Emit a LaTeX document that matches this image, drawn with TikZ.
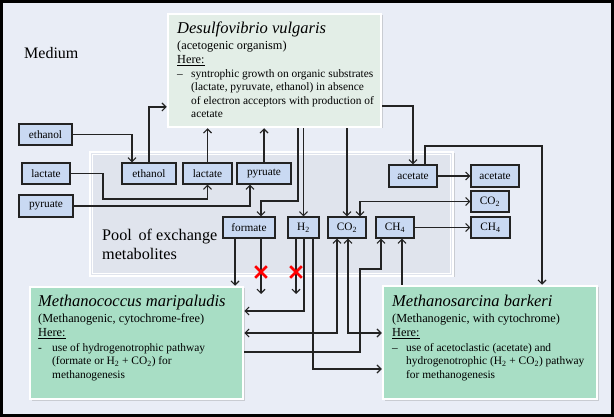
\documentclass[tikz,border=0pt]{standalone}
\usepackage{fontspec}
\setmainfont{Liberation Serif}
\usetikzlibrary{arrows.meta,shadows,shapes.misc,calc}
\definecolor{bgc}{RGB}{233,237,246}
\definecolor{poolc}{RGB}{224,228,237}
\definecolor{dvc}{RGB}{227,238,231}
\definecolor{mc}{RGB}{168,222,197}
\definecolor{metc}{RGB}{201,217,242}
\definecolor{linec}{RGB}{35,35,35}
\newcommand\ftit{\fontsize{16.5pt}{19pt}\selectfont\itshape}
\newcommand\fsub{\fontsize{12.3pt}{14pt}\selectfont}
\newcommand\fbody{\fontsize{11.4pt}{13.5pt}\selectfont}
\newcommand\fmet{\fontsize{11.3pt}{12pt}\selectfont}
\newcommand\fbig{\fontsize{16.2pt}{19pt}\selectfont}
\tikzset{
  metab/.style={rectangle, fill=metc, draw=linec, line width=1.2pt, inner sep=0pt,
    minimum height=21pt, font=\fmet, text=black},
  orgbox/.style={rectangle, draw=white, line width=2.5pt, inner sep=0pt,
    drop shadow={shadow xshift=1.5pt, shadow yshift=-1.5pt, opacity=0.3}},
  poolbox/.style={rectangle, fill=poolc, draw=white, line width=2.5pt, inner sep=0pt,
    drop shadow={shadow xshift=1.5pt, shadow yshift=-1.5pt, opacity=0.3}},
  txt/.style={anchor=base west, inner sep=0pt, text=black},
  arr/.style={draw=linec, line width=1.1pt, -{Straight Barb[length=4pt,width=8pt,line width=1.1pt]}},
  arr2/.style={draw=linec, line width=1.1pt, {Straight Barb[length=4pt,width=8pt,line width=1.1pt]}-{Straight Barb[length=4pt,width=8pt,line width=1.1pt]}},
  xmark/.style={cross out, draw=red, line width=2.6pt, minimum size=9pt, inner sep=0pt}
}
\begin{document}
\begin{tikzpicture}[x=1pt,y=-1pt]
\useasboundingbox (0,0) rectangle (614,417);
\fill[bgc] (0,0) rectangle (614,417);
\draw[black, line width=3pt] (1.5,1.5) rectangle (612.5,415.5);

\node[txt,font=\fontsize{16pt}{19pt}\selectfont] (medium) at (24,58.3) {Medium};

% pool
\node[poolbox, minimum width=363pt, minimum height=124pt] (pool) at (271.5,214) {};
\draw[white, line width=0.8pt] ([shift={(4pt,-4pt)}]pool.north west) rectangle ([shift={(-4pt,4pt)}]pool.south east);
\node[txt,font=\fbig] (pl1) at (102,241) {Pool\, of exchange};
\node[txt,font=\fbig] (pl2) at (102,260) {metabolites};

% organisms
\node[orgbox, fill=dvc, minimum width=213pt, minimum height=113pt] (dv) at (274.5,70.5) {};
\node[orgbox, fill=mc, minimum width=213pt, minimum height=112pt] (mm) at (136.5,343) {};
\node[orgbox, fill=mc, minimum width=214pt, minimum height=113pt] (mb) at (490,342.5) {};

\node[txt,font=\ftit] (dvt) at (177,34) {Desulfovibrio vulgaris};
\node[txt,font=\fsub] (dvs) at (177,50) {(acetogenic organism)};
\node[txt,font=\fsub] (dvh) at (177,63.5) {\underline{Here:}};
\node[txt,font=\fbody] (dvd) at (177,77.5) {–};
\node[txt,font=\fbody] (dv1) at (191,77.5) {syntrophic growth on organic substrates};
\node[txt,font=\fbody] (dv2) at (191,91) {(lactate, pyruvate, ethanol) in absence};
\node[txt,font=\fbody] (dv3) at (191,104.5) {of electron acceptors with production of};
\node[txt,font=\fbody] (dv4) at (191,118) {acetate};

\node[txt,font=\ftit] (mmt) at (38,306.5) {Methanococcus maripaludis};
\node[txt,font=\fsub] (mms) at (38,323) {(Methanogenic, cytochrome-free)};
\node[txt,font=\fsub] (mmh) at (38,336.5) {\underline{Here:}};
\node[txt,font=\fbody] (mmd) at (38,351) {-};
\node[txt,font=\fbody] (mm1) at (52,351) {use of hydrogenotrophic pathway};
\node[txt,font=\fbody] (mm2) at (52,364.5) {(formate or H\textsubscript{2} + CO\textsubscript{2}) for};
\node[txt,font=\fbody] (mm3) at (52,378) {methanogenesis};

\node[txt,font=\ftit] (mbt) at (392,306.5) {Methanosarcina barkeri};
\node[txt,font=\fsub] (mbs) at (392,323) {(Methanogenic, with cytochrome)};
\node[txt,font=\fsub] (mbh) at (392,336.5) {\underline{Here:}};
\node[txt,font=\fbody] (mbd) at (392,351) {–};
\node[txt,font=\fbody] (mb1) at (406,351) {use of acetoclastic (acetate) and};
\node[txt,font=\fbody] (mb2) at (406,364.5) {hydrogenotrophic (H\textsubscript{2} + CO\textsubscript{2}) pathway};
\node[txt,font=\fbody] (mb3) at (406,378) {for methanogenesis};

% metabolite boxes
\node[metab, minimum width=53pt] (ethL) at (45.5,134.5) {ethanol};
\node[metab, minimum width=48pt] (lacL) at (46,173.5) {lactate};
\node[metab, minimum width=54pt, minimum height=22pt] (pyrL) at (46,206) {pyruate};
\node[metab, minimum width=54pt] (ethI) at (149,173.5) {ethanol};
\node[metab, minimum width=49pt] (lacI) at (207.5,173.5) {lactate};
\node[metab, minimum width=54pt] (pyrI) at (264,173.5) {pyruate};
\node[metab, minimum width=52pt] (form) at (249,227.5) {formate};
\node[metab, minimum width=31pt] (H2) at (303.5,227.5) {H\textsubscript{2}};
\node[metab, minimum width=38pt] (CO2) at (347,227.5) {CO\textsubscript{2}};
\node[metab, minimum width=38pt] (CH4) at (395,227.5) {CH\textsubscript{4}};
\node[metab, minimum width=48pt, minimum height=22pt] (aceI) at (413,176) {acetate};
\node[metab, minimum width=48pt, minimum height=22pt] (aceO) at (495,176) {acetate};
\node[metab, minimum width=38pt] (co2O) at (490,201.5) {CO\textsubscript{2}};
\node[metab, minimum width=39pt] (ch4O) at (490.5,227.5) {CH\textsubscript{4}};

% connectors
\draw[arr] (ethL.east) -| ([xshift=-17pt]ethI.north);
\draw[arr] (ethI.north) |- (dv.west |- 0,107);
\draw[arr] (lacI.north) -- (lacI.north |- dv.south);
\draw[arr] (pyrI.north) -- (pyrI.north |- dv.south);
\draw[arr] (lacL.east) -| (103,199) -| (lacI.south);
\draw[arr] (pyrL.east) -| ([xshift=-14pt]pyrI.south);
\draw[arr] (dv.south -| 298,0) |- (261,201) -- ([xshift=12pt]form.north);
\draw[arr] (dv.south -| H2.north) -- (H2.north);
\draw[arr] (dv.south -| CO2.north) -- (CO2.north);
\draw[arr] (dv.east |- 0,106) -| (aceI.north);
\draw[arr] (aceI.east) -- (aceO.west);
\draw[arr] ([xshift=12pt]aceI.north) |- (542,146) -- (mb.north -| 542,0);
\draw[arr2] (co2O.west) -| ([xshift=13pt]CO2.north);
\draw[arr] (CH4.east) -- (ch4O.west);

\coordinate (fa) at ([xshift=-14pt]form.south);
\draw[arr] (fa) -- (fa |- mm.north);
\coordinate (fbE) at (261,294);
\coordinate (hbE) at (296,294);
\draw[arr] ([xshift=12pt]form.south) -- (fbE);
\draw[arr] ([xshift=-7.5pt]H2.south) -- (hbE);
\draw[arr] ([xshift=0.5pt]H2.south) |- (mm.east |- 0,311);
\draw[arr] ([xshift=9.5pt]H2.south) |- (mb.west |- 0,369);
\draw[arr2] ([xshift=-10pt]CO2.south) |- (mm.east |- 0,333);
\draw[arr2] ([xshift=1pt]CO2.south) |- (mb.west |- 0,333);
\draw[arr] (mm.east |- 0,352) -| (360,269) -| ([xshift=-14pt]CH4.south);
\draw[arr] (mb.north -| 402,0) -- ([xshift=7pt]CH4.south);

\node[xmark] (xf) at (261,272) {};
\node[xmark] (xh) at (296,272) {};
\end{tikzpicture}
\end{document}
